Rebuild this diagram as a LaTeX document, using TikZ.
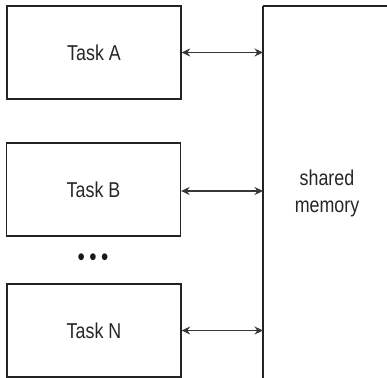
\documentclass[tikz,border=0pt]{standalone}
\usepackage{fontspec}
\setmainfont{Liberation Sans}[FakeStretch=0.83]
\usepackage{tikz}
\usetikzlibrary{arrows.meta, positioning}
\definecolor{boxline}{RGB}{35,35,35}
\definecolor{linkline}{RGB}{55,55,55}

\begin{document}
\begin{tikzpicture}[
    x=1pt, y=-1pt,
    every node/.style={font=\fontsize{21.5}{27}\selectfont, text=black!85},
    task/.style={rectangle, draw=boxline, line width=1.3pt,
                 minimum width=174pt, minimum height=93pt, inner sep=0pt},
    link/.style={{Stealth[length=8.5pt,width=8pt]}-{Stealth[length=8.5pt,width=8pt]},
                 draw=linkline, line width=1.4pt}
]
\useasboundingbox (0,0) rectangle (387,377);
\clip (0,0) rectangle (387,377);

% --- tareas ---
\node[task] (taskA) at (94,52.5) {Task A};
\node[task] (taskB) at (93.5,189.5) {Task B};
\node[task] (taskN) at (94,330.5) {Task N};
\node[font=\fontsize{25}{30}\selectfont, text=black!90] (dots) at (93,260)
    {\textbullet\hspace{4.5pt}\textbullet\hspace{4.5pt}\textbullet};

% --- memoria compartida ---
\node[minimum width=150pt, minimum height=420pt, inner sep=0pt,
      anchor=north west] (mem) at (263,6) {};
\draw[boxline, line width=1.6pt] (mem.south west) -- (mem.north west);
\draw[boxline, line width=2.4pt] (mem.north west) -- (mem.north east);
\node[align=center, font=\fontsize{21.5}{27}\selectfont] (memlabel) at (327,193)
    {shared\\memory};

% --- enlaces ---
\draw[link] (taskA.east) -- (taskA.east -| mem.west);
\draw[link] ([yshift=-1.5pt]taskB.east) -- ([yshift=-1.5pt]taskB.east -| mem.west);
\draw[link] (taskN.east) -- (taskN.east -| mem.west);
\end{tikzpicture}
\end{document}
